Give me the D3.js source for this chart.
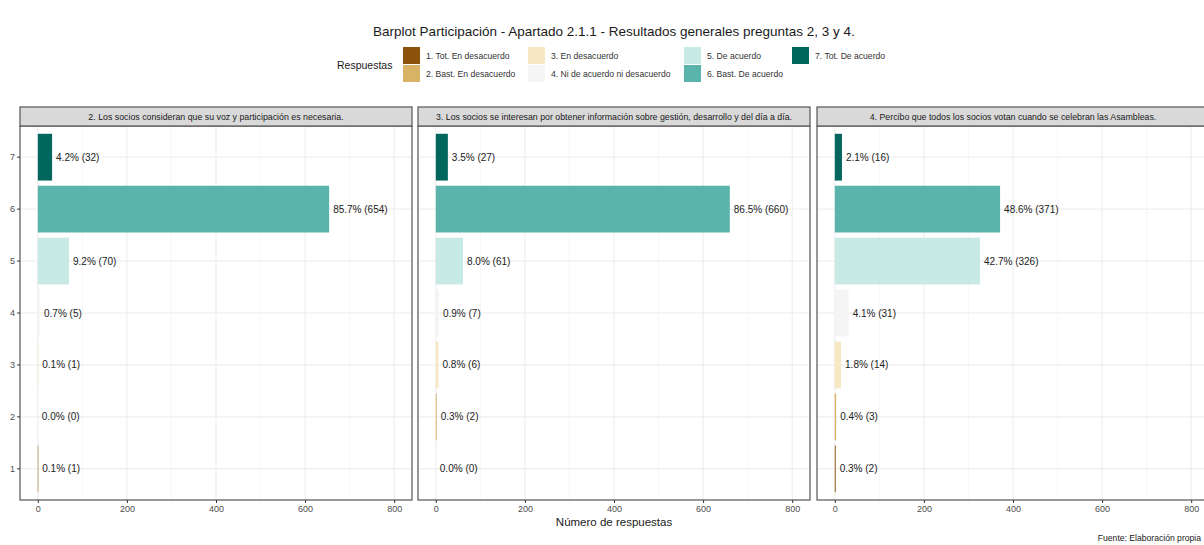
<!DOCTYPE html>
<html>
<head>
<meta charset="utf-8">
<script src="https://cdn.jsdelivr.net/npm/d3@7"></script>
<style>
  body { margin: 0; background: #fff; }
  svg { display: block; font-family: "Liberation Sans", Arial, sans-serif; }
</style>
</head>
<body>
<svg id="chart" width="1204" height="545"></svg>
<script>
// data
var categories = ["1", "2", "3", "4", "5", "6", "7"];
var legendLabels = ["1. Tot. En desacuerdo", "2. Bast. En desacuerdo", "3. En desacuerdo",
    "4. Ni de acuerdo ni desacuerdo", "5. De acuerdo", "6. Bast. De acuerdo", "7. Tot. De acuerdo"];
var questions = [
    "2. Los socios consideran que su voz y participación es necesaria.",
    "3. Los socios se interesan por obtener información sobre gestión, desarrollo y del día a día.",
    "4. Percibo que todos los socios votan cuando se celebran las Asambleas."
];
var countsQ2 = [1, 0, 1, 5, 70, 654, 32];
var pctQ2 = ["0.1", "0.0", "0.1", "0.7", "9.2", "85.7", "4.2"];
var countsQ3 = [0, 2, 6, 7, 61, 660, 27];
var pctQ3 = ["0.0", "0.3", "0.8", "0.9", "8.0", "86.5", "3.5"];
var countsQ4 = [2, 3, 14, 31, 326, 371, 16];
var pctQ4 = ["0.3", "0.4", "1.8", "4.1", "42.7", "48.6", "2.1"];
var xTicks = [0, 200, 400, 600, 800];
var xMinor = [100, 300, 500, 700];
var palette = ["#8c510a", "#d8b365", "#f6e8c3", "#f5f5f5", "#c7eae5", "#5ab4ac", "#01665e"];

var panels = [
    {title: questions[0], counts: countsQ2, pct: pctQ2},
    {title: questions[1], counts: countsQ3, pct: pctQ3},
    {title: questions[2], counts: countsQ4, pct: pctQ4}
];

var svg = d3.select("#chart");
var color = d3.scaleOrdinal().domain(categories).range(palette);

// title
svg.append("text")
    .attr("x", 614).attr("y", 36)
    .attr("text-anchor", "middle")
    .attr("font-size", 13.5).attr("fill", "#1a1a1a")
    .text("Barplot Participación - Apartado 2.1.1 - Resultados generales preguntas 2, 3 y 4.");

// legend
var legend = svg.append("g");
legend.append("text")
    .attr("x", 337).attr("y", 69)
    .attr("font-size", 10.5).attr("fill", "#1a1a1a")
    .text("Respuestas");
var colX = [403, 528, 684, 792];
var keySize = 17;
legendLabels.forEach(function(lab, i) {
    var col = Math.floor(i / 2), row = i % 2;
    var kx = colX[col], ky = 47 + row * 18;
    legend.append("rect")
        .attr("x", kx).attr("y", ky)
        .attr("width", keySize).attr("height", keySize)
        .attr("fill", color(categories[i]));
    legend.append("text")
        .attr("x", kx + 23).attr("y", ky + keySize / 2 + 3)
        .attr("font-size", 8.6).attr("fill", "#333")
        .text(lab);
});

// facets
var panelLefts = [20, 418, 817];
var panelW = 392;
var stripTop = 107, stripH = 19;
var plotTop = stripTop + stripH, plotBottom = 500;

// ggplot-like discrete expansion: 0.6 of a step on each side
var y = d3.scaleBand()
    .domain(categories.slice().reverse())
    .range([plotTop, plotBottom])
    .paddingInner(0.1)
    .paddingOuter(0.15);

panels.forEach(function(p, pi) {
    var L = panelLefts[pi];
    var x = d3.scaleLinear().domain([-40, 840]).range([L, L + panelW]);
    var g = svg.append("g");

    // grid
    g.selectAll(".minor").data(xMinor).enter().append("line")
        .attr("x1", function(d) { return x(d); }).attr("x2", function(d) { return x(d); })
        .attr("y1", plotTop).attr("y2", plotBottom)
        .attr("stroke", "#f2f2f2").attr("stroke-width", 0.6);
    g.selectAll(".major").data(xTicks).enter().append("line")
        .attr("x1", function(d) { return x(d); }).attr("x2", function(d) { return x(d); })
        .attr("y1", plotTop).attr("y2", plotBottom)
        .attr("stroke", "#ebebeb").attr("stroke-width", 1);
    g.selectAll(".hgrid").data(categories).enter().append("line")
        .attr("x1", L).attr("x2", L + panelW)
        .attr("y1", function(d) { return y(d) + y.bandwidth() / 2; })
        .attr("y2", function(d) { return y(d) + y.bandwidth() / 2; })
        .attr("stroke", "#ebebeb").attr("stroke-width", 1);

    var rows = categories.map(function(c, i) {
        return {cat: c, n: p.counts[i], pct: p.pct[i]};
    });

    // bars
    g.selectAll(".bar").data(rows).enter().append("rect")
        .attr("x", x(0))
        .attr("y", function(d) { return y(d.cat); })
        .attr("width", function(d) { return x(d.n) - x(0); })
        .attr("height", y.bandwidth())
        .attr("fill", function(d) { return color(d.cat); });

    // value labels
    g.selectAll(".lab").data(rows).enter().append("text")
        .attr("x", function(d) { return x(d.n) + 4; })
        .attr("y", function(d) { return y(d.cat) + y.bandwidth() / 2 + 3.5; })
        .attr("font-size", 10).attr("fill", "#222")
        .text(function(d) { return d.pct + "% (" + d.n + ")"; });

    // panel border
    g.append("rect")
        .attr("x", L).attr("y", plotTop)
        .attr("width", panelW).attr("height", plotBottom - plotTop)
        .attr("fill", "none").attr("stroke", "#555").attr("stroke-width", 1.2);

    // strip
    g.append("rect")
        .attr("x", L).attr("y", stripTop)
        .attr("width", panelW).attr("height", stripH)
        .attr("fill", "#d9d9d9").attr("stroke", "#555").attr("stroke-width", 1.2);
    g.append("text")
        .attr("x", L + panelW / 2).attr("y", stripTop + stripH / 2 + 3)
        .attr("text-anchor", "middle")
        .attr("font-size", 8.8).attr("fill", "#1a1a1a")
        .text(p.title);

    // x axis
    var xAxis = d3.axisBottom(x).tickValues(xTicks).tickSize(3).tickPadding(3);
    var ax = g.append("g").attr("transform", "translate(0," + plotBottom + ")").call(xAxis);
    ax.select(".domain").remove();
    ax.selectAll("line").attr("stroke", "#333");
    ax.selectAll("text").attr("font-size", 9).attr("fill", "#4d4d4d")
        .attr("font-family", "\"Liberation Sans\", Arial, sans-serif");

    // y axis on first panel only
    if (pi === 0) {
        var yAxis = d3.axisLeft(y).tickSize(3).tickPadding(2);
        var ay = g.append("g").attr("transform", "translate(" + L + ",0)").call(yAxis);
        ay.select(".domain").remove();
        ay.selectAll("line").attr("stroke", "#333");
        ay.selectAll("text").attr("font-size", 9).attr("fill", "#4d4d4d")
            .attr("font-family", "\"Liberation Sans\", Arial, sans-serif");
    }
});

// axis title and caption
svg.append("text")
    .attr("x", 614).attr("y", 526)
    .attr("text-anchor", "middle")
    .attr("font-size", 11.5).attr("fill", "#1a1a1a")
    .text("Número de respuestas");
svg.append("text")
    .attr("x", 1201).attr("y", 541)
    .attr("text-anchor", "end")
    .attr("font-size", 8.6).attr("fill", "#1a1a1a")
    .text("Fuente: Elaboración propia");
</script>
</body>
</html>
